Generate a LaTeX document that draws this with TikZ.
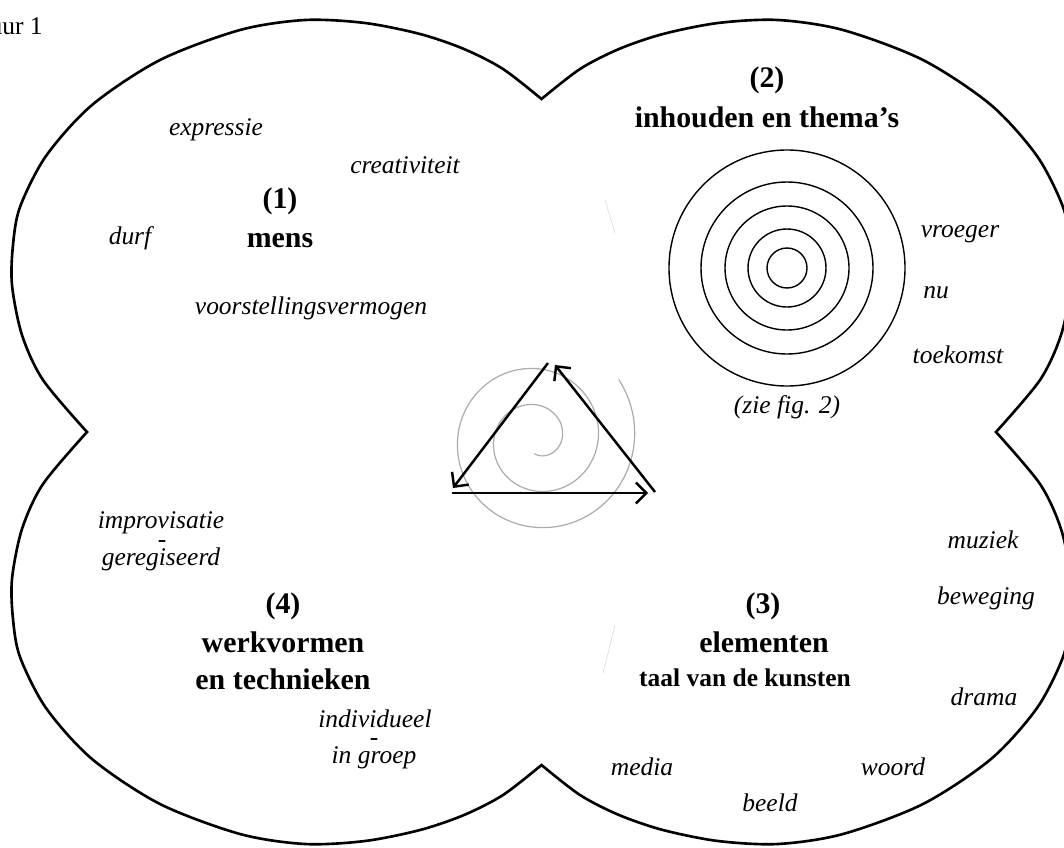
\documentclass[tikz,border=0pt]{standalone}
\usepackage{fontspec}
\setmainfont{Liberation Serif}
\usetikzlibrary{arrows.meta}

\begin{document}
\begin{tikzpicture}[x=2cm, y=-2cm,
	head/.style = {font=\bfseries\fontsize{17}{20}\selectfont},
	sub/.style = {font=\bfseries\fontsize{14.5}{17}\selectfont},
	word/.style = {font=\itshape\fontsize{14.5}{17}\selectfont},
	line/.style = {word, anchor=base, inner sep=0pt},
	edge/.style = {line width=1.4pt, -{Straight Barb[length=2.1mm, width=4.2mm]}},
	spiral/.style = {gray!65, line width=0.7pt},
	faint/.style = {gray!25, line width=0.4pt}]
	
	\useasboundingbox (0,0) rectangle (10.64,8.47);
	
	% outline: four lobes meeting in cusps
	\draw[line width=1.5pt, line join=miter]
		plot[smooth] coordinates {(0.87,4.32) (0.43,3.80) (0.22,3.35) (0.12,2.85) (0.13,2.45) (0.20,2.07) (0.46,1.56) (0.92,1.05) (1.60,0.60) (2.40,0.30) (3.05,0.20) (3.65,0.23) (4.20,0.34) (4.64,0.49) (5.03,0.69) (5.415,0.99)}
		-- plot[smooth] coordinates {(5.415,0.99) (5.80,0.69) (6.19,0.49) (6.63,0.34) (7.18,0.23) (7.78,0.20) (8.43,0.30) (9.23,0.60) (9.91,1.05) (10.37,1.56) (10.63,2.07) (10.70,2.45) (10.71,2.85) (10.61,3.35) (10.40,3.80) (9.96,4.32)}
		-- plot[smooth] coordinates {(9.96,4.32) (10.40,4.84) (10.61,5.29) (10.71,5.79) (10.70,6.19) (10.63,6.57) (10.37,7.08) (9.91,7.59) (9.23,8.04) (8.43,8.34) (7.78,8.44) (7.18,8.41) (6.63,8.30) (6.19,8.15) (5.80,7.95) (5.415,7.65)}
		-- plot[smooth] coordinates {(5.415,7.65) (5.03,7.95) (4.64,8.15) (4.20,8.30) (3.65,8.41) (3.05,8.44) (2.40,8.34) (1.60,8.04) (0.92,7.59) (0.46,7.08) (0.20,6.57) (0.13,6.19) (0.12,5.79) (0.22,5.29) (0.43,4.84) (0.87,4.32)}
		-- cycle;
	
	\draw[faint] (6.05,2.00) -- (6.15,2.33);
	\draw[faint] (6.15,6.25) -- (6.03,6.73);
	
	\node[font=\fontsize{14.5}{17}\selectfont, anchor=east, inner sep=0pt] (fig) at (0.43,0.26) {uur 1};
	
	% (1) mens
	\node[head] (1) at (2.80,2.01) {(1)};
	\node[head] (mens) at (2.80,2.41) {mens};
	\node[word] (expressie) at (2.16,1.30) {expressie};
	\node[word] (creativiteit) at (4.05,1.65) {creativiteit};
	\node[word] (durf) at (1.30,2.38) {durf};
	\node[word] (voorstelling) at (3.11,3.08) {voorstellingsvermogen};
	
	% (2) inhouden
	\node[head] (2) at (7.67,0.80) {(2)};
	\node[head] (inhouden) at (7.67,1.17) {inhouden en thema’s};
	\coordinate (rings) at (7.87,2.68);
	\foreach \r in {0.20,0.39,0.62,0.86,1.18}
		\draw[line width=0.8pt] (rings) circle (\r);
	\node[word] (zie) at (7.87,4.07) {(zie fig. 2)};
	\node[word] (vroeger) at (9.60,2.34) {vroeger};
	\node[word] (nu) at (9.36,2.93) {nu};
	\node[word] (toekomst) at (9.58,3.55) {toekomst};
	
	% (3) elementen
	\node[head] (3) at (7.63,6.06) {(3)};
	\node[head] (elementen) at (7.64,6.42) {elementen};
	\node[sub] (taal) at (7.45,6.78) {taal van de kunsten};
	\node[word] (muziek) at (9.83,5.40) {muziek};
	\node[word] (beweging) at (9.86,5.98) {beweging};
	\node[word] (drama) at (9.84,6.97) {drama};
	\node[word] (woord) at (8.93,7.67) {woord};
	\node[word] (media) at (6.42,7.67) {media};
	\node[word] (beeld) at (7.70,8.03) {beeld};
	
	% (4) werkvormen
	\node[head] (4) at (2.83,6.06) {(4)};
	\node[head] (werkvormen) at (2.83,6.42) {werkvormen};
	\node[head] (technieken) at (2.83,6.79) {en technieken};
	\node[line] (improvisatie) at (1.61,5.28) {improvisatie};
	\node[line] (dash1) at (1.62,5.47) {-};
	\node[line] (geregiseerd) at (1.61,5.65) {geregiseerd};
	\node[line] (individueel) at (3.75,7.27) {individueel};
	\node[line] (dash2) at (3.74,7.45) {-};
	\node[line] (groep) at (3.74,7.63) {in groep};
	
	% spiral and triangle in the middle
	\draw[spiral] plot[domain=-100:756, samples=240, smooth]
		({5.37+(0.25+0.001*\x)*cos(\x)}, {4.39-(0.25+0.001*\x)*sin(\x)});
	
	\coordinate (apexL) at (5.48,3.63);
	\coordinate (apexR) at (5.55,3.65);
	\coordinate (left) at (4.53,4.88);
	\coordinate (right) at (6.55,4.92);
	\coordinate (baseL) at (4.52,4.93);
	\coordinate (baseR) at (6.48,4.93);
	
	\draw[edge] (apexL) -- (left);
	\draw[edge] (right) -- (apexR);
	\draw[edge] (baseL) -- (baseR);
	
\end{tikzpicture}
\end{document}
